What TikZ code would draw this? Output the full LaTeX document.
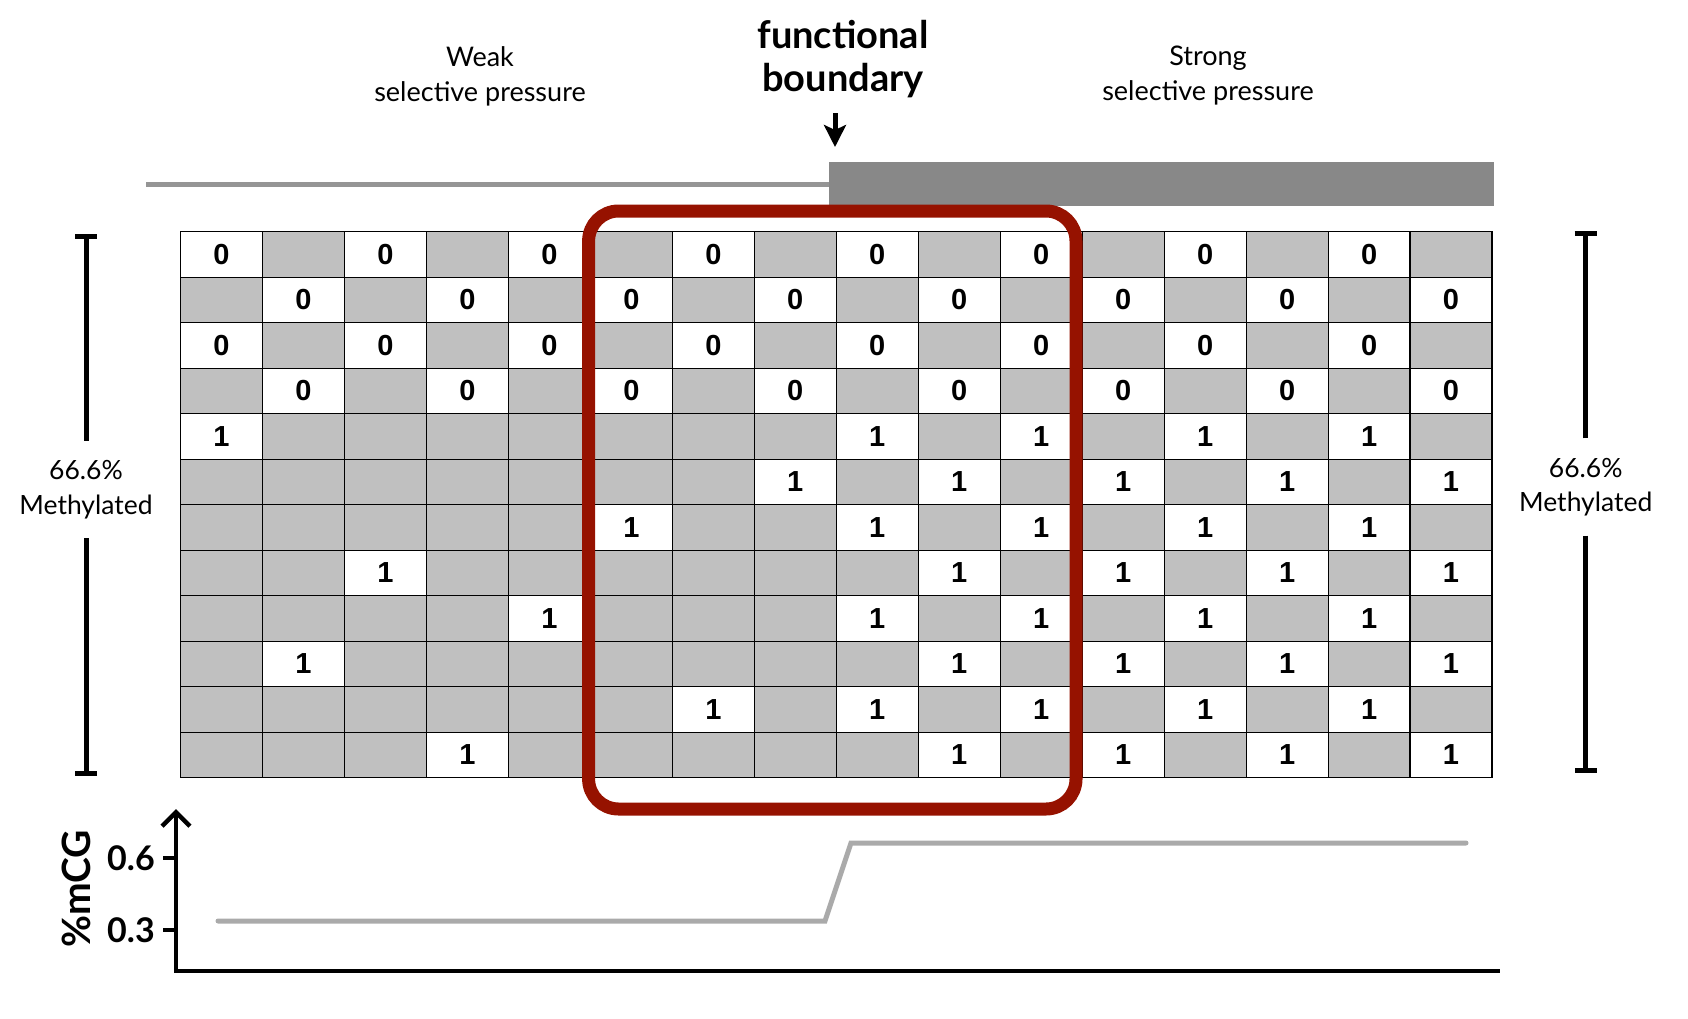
\documentclass[tikz,border=0pt]{standalone}
\usepackage{fontspec}
\setmainfont{Lato}
\newfontfamily\cellfont{Liberation Sans}
\usepackage{xcolor}
\usetikzlibrary{positioning,arrows.meta}
\definecolor{cellgray}{HTML}{C0C0C0}
\definecolor{bargray}{HTML}{888888}
\definecolor{linegray}{HTML}{959595}
\definecolor{trendgray}{HTML}{AAAAAA}
\definecolor{boxred}{RGB}{150,18,0}

\begin{document}
\begin{tikzpicture}[x=1pt,y=-1pt,
    emptycell/.style={draw,line width=1.2pt,fill=cellgray,minimum width=81.97pt,minimum height=45.5pt,inner sep=0pt,outer sep=0pt},
    valcell/.style={emptycell,fill=white,font=\cellfont\bfseries\fontsize{29}{29}\selectfont},
    pressure/.style={align=center,font=\fontsize{27}{35}\selectfont},
    meth/.style={align=center,font=\fontsize{26.5}{34.5}\selectfont,minimum height=97pt,inner sep=0pt},
    bracket/.style={line width=5pt,-{Bar[width=22pt]}},
    arr/.style={line width=5pt,-{Stealth[length=22pt,width=22pt,inset=5pt]}},
    axisline/.style={line width=4.5pt},
    ticklabel/.style={font=\bfseries\fontsize{34}{34}\selectfont,inner sep=0pt},
    trend/.style={line width=5pt,trendgray,line cap=round}
  ]
    \useasboundingbox (0,0) rectangle (1688,1018);

    \node[pressure] (weak) at (480,76) {Weak\\selective pressure};
    \node[pressure] (strong) at (1208,76) {Strong\\selective pressure};
    \node[align=center,font=\bfseries\fontsize{38}{42.6}\selectfont] (fb) at (843,59) {functional\\boundary};
    \coordinate (fbtail) at (835,113);
    \coordinate (fbtip) at (835,147);
    \draw[arr] (fbtail) -- (fbtip);

    \draw[line width=5.5pt,linegray] (146,184.5) -- (829,184.5);
    \fill[bargray] (829,162) rectangle (1494,206);

    \foreach \row/\hit in {1/0,2/0,3/0,4/0,5/1,6/8,7/6,8/3,9/5,10/2,11/7,12/4}
      \foreach \col in {1,...,16}{
        \pgfmathtruncatemacro{\parity}{mod(\row+\col,2)}
        \def\kind{emptycell}\def\digit{}
        \ifnum\row<5
          \ifnum\parity=0 \def\kind{valcell}\def\digit{0}\fi
        \else
          \ifnum\col>8
            \ifnum\parity=0 \def\kind{valcell}\def\digit{1}\fi
          \else
            \ifnum\col=\hit \def\kind{valcell}\def\digit{1}\fi
          \fi
        \fi
        \node[\kind] (c\row-\col) at ({180.5+(\col-0.5)*81.97},{231.7+(\row-0.5)*45.5}) {\digit};
      }

    \draw[line width=13pt,boxred,rounded corners=30pt] (588.6,211) rectangle (1076,809);

    \node[meth] (lmeth) at (86,489.5) {66.6\%\\Methylated};
    \coordinate (ltop) at (86,234);
    \coordinate (lbot) at (86,776);
    \draw[bracket] (lmeth.north) -- (ltop);
    \draw[bracket] (lmeth.south) -- (lbot);
    \node[meth] (rmeth) at (1585.7,487) {66.6\%\\Methylated};
    \coordinate (rtop) at (1585.7,231);
    \coordinate (rbot) at (1585.7,773.4);
    \draw[bracket] (rmeth.north) -- (rtop);
    \draw[bracket] (rmeth.south) -- (rbot);

    \coordinate (origin) at (176,971);
    \coordinate (ytip) at (176,809);
    \coordinate (xend) at (1500,971);
    \draw[axisline,{Straight Barb[length=14pt,width=28pt]}-] (ytip) -- (origin) -- (xend);
    \draw[axisline] (origin) ++(0,-113) -- ++(-13,0) node[left=6pt,ticklabel] (l06) {0.6};
    \draw[axisline] (origin) ++(0,-41) -- ++(-13,0) node[left=6pt,ticklabel] (l03) {0.3};
    \node[font=\bfseries\fontsize{39}{39}\selectfont,rotate=90] (ylab) at (76,889) {\%mCG};
    \draw[trend] (218,921) -- (825,921) -- (851,843) -- (1466,843);
\end{tikzpicture}
\end{document}
